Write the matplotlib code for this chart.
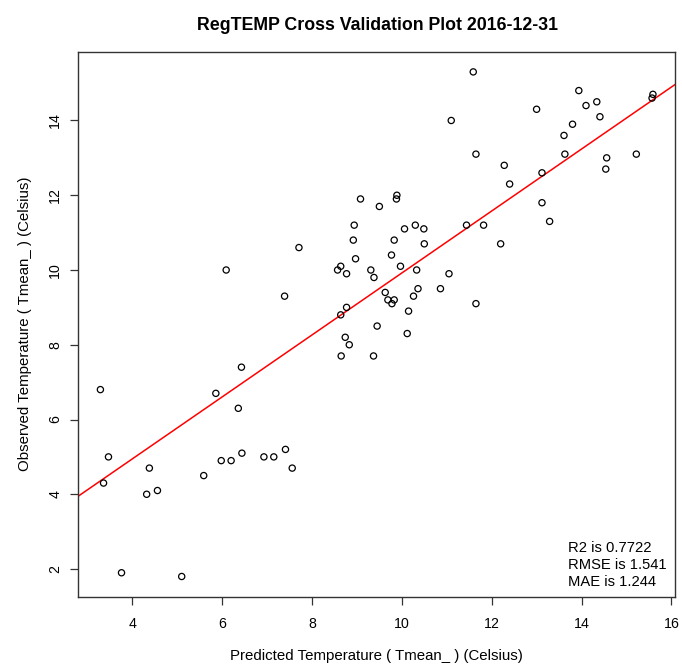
import matplotlib
matplotlib.use("Agg")
import matplotlib.pyplot as plt

# predicted vs observed mean temperature (Celsius)
predicted = [3.29, 3.47, 3.36, 3.76, 4.38, 4.32, 4.56, 5.10, 5.59, 5.86,
             5.98, 6.09, 6.20, 6.36, 6.43, 6.44, 6.93, 7.15, 7.39, 7.41,
             7.56, 7.71, 8.57, 8.64, 8.64, 8.65, 8.74, 8.77, 8.77, 8.83,
             8.92, 8.94, 8.97, 9.08, 9.31, 9.37, 9.38, 9.45, 9.50, 9.63,
             9.69, 9.77, 9.78, 9.83, 9.83, 9.88, 9.89, 9.97, 10.06, 10.12,
             10.15, 10.26, 10.30, 10.33, 10.36, 10.49, 10.50, 10.86, 11.05, 11.10,
             11.44, 11.59, 11.65, 11.65, 11.82, 12.20, 12.28, 12.40, 13.00, 13.12,
             13.12, 13.29, 13.61, 13.63, 13.80, 13.94, 14.10, 14.34, 14.41, 14.54,
             14.56, 15.22, 15.57, 15.59]
observed = [6.8, 5.0, 4.3, 1.9, 4.7, 4.0, 4.1, 1.8, 4.5, 6.7,
            4.9, 10.0, 4.9, 6.3, 7.4, 5.1, 5.0, 5.0, 9.3, 5.2,
            4.7, 10.6, 10.0, 10.1, 8.8, 7.7, 8.2, 9.9, 9.0, 8.0,
            10.8, 11.2, 10.3, 11.9, 10.0, 7.7, 9.8, 8.5, 11.7, 9.4,
            9.2, 10.4, 9.1, 10.8, 9.2, 11.9, 12.0, 10.1, 11.1, 8.3,
            8.9, 9.3, 11.2, 10.0, 9.5, 11.1, 10.7, 9.5, 9.9, 14.0,
            11.2, 15.3, 13.1, 9.1, 11.2, 10.7, 12.8, 12.3, 14.3, 12.6,
            11.8, 11.3, 13.6, 13.1, 13.9, 14.8, 14.4, 14.5, 14.1, 12.7,
            13.0, 13.1, 14.6, 14.7]

fit_intercept = 1.63
fit_slope = 0.829
stats_lines = ["R2 is 0.7722", "RMSE is 1.541", "MAE is 1.244"]
x_ticks = [4, 6, 8, 10, 12, 14, 16]
y_ticks = [2, 4, 6, 8, 10, 12, 14]

plt.rcParams['font.family'] = ['Liberation Sans', 'DejaVu Sans']

fig = plt.figure(figsize=(6.82, 6.69), dpi=100)
ax = fig.add_axes([0.1148, 0.1081, 0.875, 0.8146])

ax.scatter(predicted, observed, s=20, facecolors='none', edgecolors='black', linewidths=0.9, zorder=3)
ax.axline((0, fit_intercept), slope=fit_slope, color='red', lw=1.1, zorder=2)

# R style 4% padding around the data range
xr = max(predicted) - min(predicted)
yr = max(observed) - min(observed)
ax.set_xlim(min(predicted) - 0.04 * xr, max(predicted) + 0.04 * xr)
ax.set_ylim(min(observed) - 0.04 * yr, max(observed) + 0.04 * yr)

ax.set_xticks(x_ticks)
ax.set_yticks(y_ticks)
ax.tick_params(direction='out', length=5.5, width=0.9, color='#333333', labelsize=10.2)
ax.tick_params(axis='x', pad=9)
ax.tick_params(axis='y', labelrotation=90, pad=6)
for lab in ax.get_yticklabels():
    lab.set_va('center')
for sp in ax.spines.values():
    sp.set_linewidth(1.0)
    sp.set_color('#333333')

ax.set_xlabel("Predicted Temperature ( Tmean_ ) (Celsius)", fontsize=10.8, labelpad=13)
ax.set_ylabel("Observed Temperature ( Tmean_ ) (Celsius)", fontsize=10.8, labelpad=12)

fig.text(0.5535, 1 - 30 / 669, "RegTEMP Cross Validation Plot 2016-12-31",
         ha='center', va='baseline', fontsize=12.8, fontweight='bold')

for i, s in enumerate(stats_lines):
    ax.text(0.821, 0.0888 - i * 0.0307, s, transform=ax.transAxes,
            ha='left', va='center', fontsize=10.6)

fig.savefig("out.png", dpi=100)
